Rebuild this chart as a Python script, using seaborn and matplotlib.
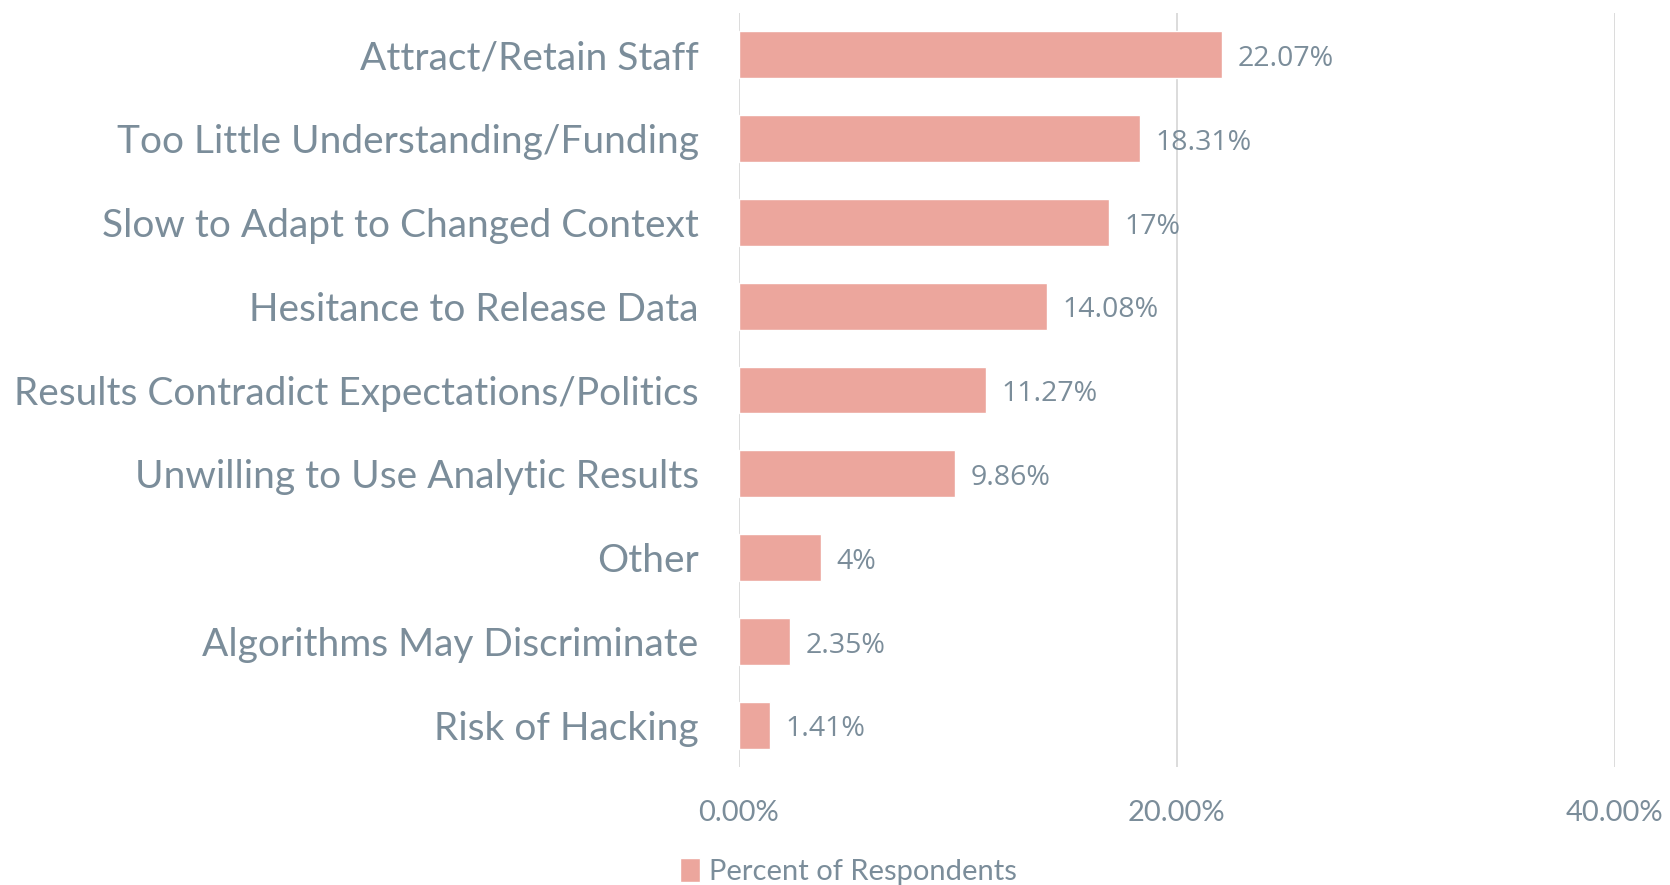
import matplotlib
matplotlib.use("Agg")

import matplotlib.pyplot as plt
import matplotlib.ticker as mticker
import pandas as pd
import seaborn as sns

# ── Data ───────────────────────────────────────────────────────────────
categories = [
    "Attract/Retain Staff",
    "Too Little Understanding/Funding",
    "Slow to Adapt to Changed Context",
    "Hesitance to Release Data",
    "Results Contradict Expectations/Politics",
    "Unwilling to Use Analytic Results",
    "Other",
    "Algorithms May Discriminate",
    "Risk of Hacking",
]
percent = [22.07, 18.31, 16.9, 14.08, 11.27, 9.86, 3.75, 2.35, 1.41]
value_labels = ["22.07%", "18.31%", "17%", "14.08%", "11.27%", "9.86%", "4%", "2.35%", "1.41%"]
x_ticks = [0, 20, 40]
series_name = "Percent of Respondents"

BAR = "#ECA69D"
TEXT = "#7B8D9A"
GRID = "#D9D9D9"

sns.set_style("white")
plt.rcParams["font.family"] = ["Lato", "DejaVu Sans"]

df = pd.DataFrame({"category": categories, "percent": percent})

fig = plt.figure(figsize=(16.7, 8.85), dpi=100)
ax = fig.add_axes([0.4425, 0.1333, 0.5245, 0.852])

sns.barplot(data=df, x="percent", y="category", color=BAR, width=0.56,
            ax=ax, label=series_name, saturation=1, legend=False)

ax.set_xlim(0, 40)
ax.set_ylim(8.5, -0.5)
ax.set_xticks(x_ticks)
ax.xaxis.set_major_formatter(mticker.FuncFormatter(lambda v, p: f"{v:.2f}%"))
ax.grid(axis="x", color=GRID, linewidth=1.3)
ax.set_axisbelow(True)
for s in ax.spines.values():
    s.set_visible(False)
ax.set_xlabel("")
ax.set_ylabel("")
ax.tick_params(axis="both", length=0)
ax.tick_params(axis="y", labelsize=28, labelcolor=TEXT, pad=29)
ax.tick_params(axis="x", labelsize=21, labelcolor=TEXT, pad=24)

for bar, txt in zip(ax.patches, value_labels):
    ax.annotate(txt, (bar.get_width(), bar.get_y() + bar.get_height() / 2),
                xytext=(11, -3), textcoords="offset points", va="center",
                ha="left", fontsize=20.5, color=TEXT, family=["Open Sans", "DejaVu Sans"])

handles, labels = ax.get_legend_handles_labels()
leg = fig.legend(handles[:1], [series_name], loc="center",
                 bbox_to_anchor=(0.508, 0.015), frameon=False,
                 handlelength=0.7, handleheight=0.9, handletextpad=0.3,
                 prop={"family": "Lato", "size": 21})
for t in leg.get_texts():
    t.set_color(TEXT)

fig.savefig("out.png", dpi=100, facecolor="white")
